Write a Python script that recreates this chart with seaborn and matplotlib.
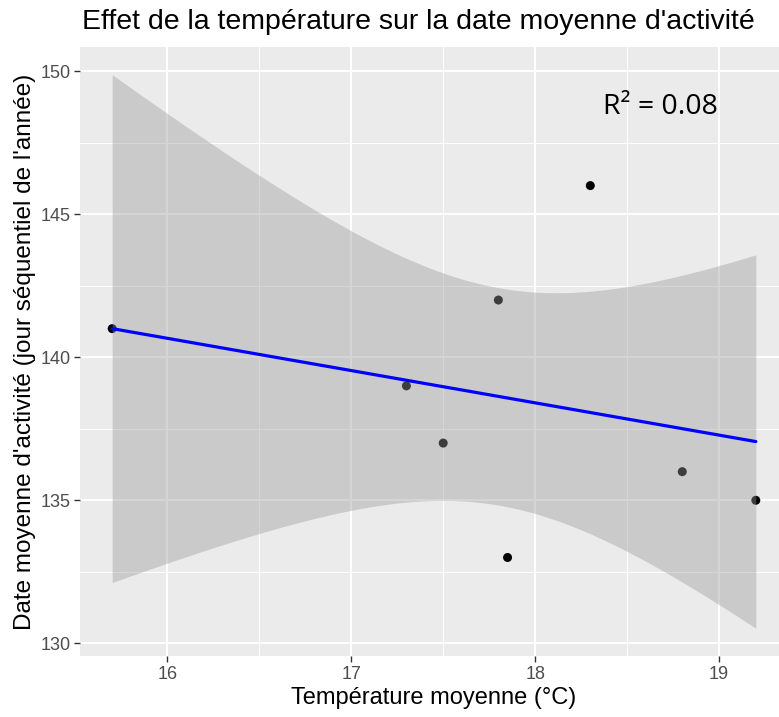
import numpy as np
import pandas as pd
import matplotlib
matplotlib.use("Agg")
import matplotlib.pyplot as plt
import seaborn as sns
from matplotlib.ticker import MultipleLocator

# Data
temperature = [15.7, 17.3, 17.5, 17.8, 17.85, 18.3, 18.8, 19.2]
date_moyenne = [141, 139, 137, 142, 133, 146, 136, 135]
x_ticks = [16, 17, 18, 19]
y_ticks = [130, 135, 140, 145, 150]
title = "Effet de la température sur la date moyenne d'activité"
x_label = "Température moyenne (°C)"
y_label = "Date moyenne d'activité (jour séquentiel de l'année)"

df = pd.DataFrame({"temp": temperature, "date": date_moyenne})

# OLS fit with 95% confidence band (like ggplot geom_smooth(method='lm'))
x = np.asarray(temperature, float)
y = np.asarray(date_moyenne, float)
n = len(x)
xbar, ybar = x.mean(), y.mean()
sxx = ((x - xbar) ** 2).sum()
slope = ((x - xbar) * (y - ybar)).sum() / sxx
intercept = ybar - slope * xbar
resid = y - (intercept + slope * x)
s = np.sqrt((resid ** 2).sum() / (n - 2))
r2 = 1 - (resid ** 2).sum() / ((y - ybar) ** 2).sum()
t_crit = 2.446912  # t(0.975, df=6)
xs = np.linspace(x.min(), x.max(), 80)
fit = intercept + slope * xs
se = s * np.sqrt(1 / n + (xs - xbar) ** 2 / sxx)
lo, hi = fit - t_crit * se, fit + t_crit * se
fit_df = pd.DataFrame({"temp": xs, "fit": fit})

sns.set_theme(style="darkgrid")
plt.rcParams["font.family"] = ["Liberation Sans", "DejaVu Sans"]

fig = plt.figure(figsize=(7.79, 7.17), dpi=100)
ax = fig.add_axes([80 / 779, (717 - 656) / 717, 708 / 779, 609 / 717])
ax.set_facecolor("#EBEBEB")

sns.scatterplot(data=df, x="temp", y="date", ax=ax, color="black", s=42,
                edgecolor="none", zorder=3, legend=False)
ax.fill_between(xs, lo, hi, color="#999999", alpha=0.4, linewidth=0, zorder=4)
sns.lineplot(data=fit_df, x="temp", y="fit", ax=ax, color="blue", linewidth=2.3,
             zorder=5)

# ggplot-like limits (5% expansion)
xr = x.max() - x.min()
ax.set_xlim(x.min() - 0.05 * xr, x.max() + 0.05 * xr)
ymin, ymax = min(lo.min(), y.min()), max(hi.max(), y.max())
yr = ymax - ymin
ax.set_ylim(ymin - 0.05 * yr, ymax + 0.05 * yr)

ax.xaxis.set_major_locator(MultipleLocator(1))
ax.xaxis.set_minor_locator(MultipleLocator(0.5))
ax.yaxis.set_major_locator(MultipleLocator(5))
ax.yaxis.set_minor_locator(MultipleLocator(2.5))
ax.set_xticks(x_ticks)
ax.set_yticks(y_ticks)
ax.grid(which="major", color="white", linewidth=1.4)
ax.grid(which="minor", color="white", linewidth=0.7)
ax.set_axisbelow(True)
for sp in ax.spines.values():
    sp.set_visible(False)
ax.tick_params(which="major", length=4, width=1, color="#333333",
               labelsize=13, labelcolor="#4D4D4D", pad=3,
               bottom=True, left=True)
ax.tick_params(which="minor", length=0)

ax.set_xlabel(x_label, fontsize=17, color="black", labelpad=3)
ax.set_ylabel(y_label, fontsize=17.5, color="black", labelpad=3)
fig.text(82 / 779, 1 - 22 / 717, title, fontsize=20.5, ha="left", va="center",
         color="black")

ax.text(18.68, 148.75, f"R² = {r2:.2f}", fontsize=20.5, ha="center", va="center",
        color="black", family=["Open Sans", "DejaVu Sans"])

fig.savefig("out.png", dpi=100)
